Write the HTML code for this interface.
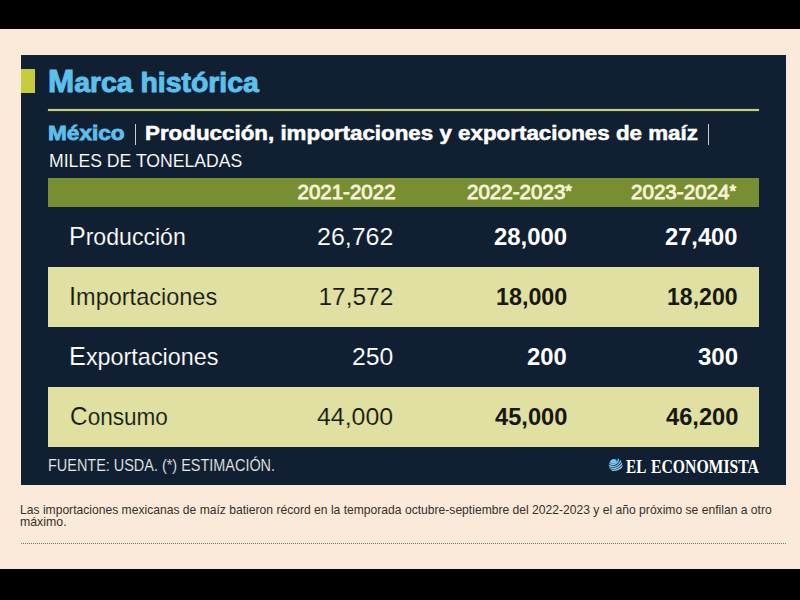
<!DOCTYPE html>
<html><head><meta charset="utf-8"><style>
html,body{margin:0;padding:0;width:800px;height:600px;overflow:hidden;background:#fbe9d9}
.b{position:absolute}
.t{position:absolute;white-space:nowrap;line-height:1;transform-origin:0 0}
.S{font-family:"Liberation Sans",sans-serif}
.R{font-family:"Liberation Serif",serif}
</style></head><body>
<div class="b" style="left:0;top:0;width:800px;height:29px;background:#000"></div>
<div class="b" style="left:0;top:569px;width:800px;height:31px;background:#000"></div>
<div class="b" style="left:21px;top:55px;width:765px;height:430px;background:#101f31"></div>
<div class="b" style="left:21px;top:69px;width:14px;height:24px;background:#c6cc3e"></div>
<div class="b" style="left:48px;top:109px;width:711px;height:2px;background:#c4d074;box-shadow:0 0 1px #c4d074"></div>
<div class="b" style="left:135px;top:124px;width:1px;height:21px;background:#c8ccd4"></div>
<div class="b" style="left:708px;top:124px;width:1px;height:21px;background:#c8ccd4"></div>
<div class="b" style="left:48px;top:178px;width:711px;height:29px;background:#788e33"></div>
<div class="b" style="left:48px;top:267px;width:711px;height:60px;background:#dfe0a2"></div>
<div class="b" style="left:48px;top:387px;width:711px;height:60px;background:#dfe0a2"></div>
<svg class="b" style="left:606px;top:455px" width="20" height="20" viewBox="0 0 20 20">
<defs><clipPath id="g"><circle cx="9.75" cy="10.15" r="6.9"/></clipPath></defs>
<g clip-path="url(#g)">
<rect width="20" height="20" fill="#0e2a46"/>
<ellipse cx="7.4" cy="6.4" rx="3.3" ry="2.4" fill="#6ccaf6"/>
<circle cx="7" cy="4.2" r="5.4" fill="none" stroke="#7cc6ec" stroke-width="1.4"/>
<circle cx="7" cy="3.4" r="8.1" fill="none" stroke="#84c0e0" stroke-width="1.4"/>
<circle cx="7" cy="2.6" r="10.8" fill="none" stroke="#8cbcd8" stroke-width="1.4"/>
<circle cx="7" cy="1.8" r="13.5" fill="none" stroke="#8cbcd8" stroke-width="1.4"/>
</g></svg>
<div class="b" style="left:21px;top:543px;width:765px;height:0;border-top:1px dotted #7a7068"></div>
<div class="t S" style="left:48.19px;top:68.64px;font-size:28px;font-weight:bold;color:#5cc0ee;transform:scaleX(1.0135);-webkit-text-stroke:1px #5cc0ee"><span style="font-size:31px;line-height:0">M</span>arca histórica</div>
<div class="t S" style="left:48.44px;top:124.12px;font-size:19.5px;font-weight:bold;color:#5cc0ee;transform:scaleX(1.1600);-webkit-text-stroke:0.8px #5cc0ee">México</div>
<div class="t S" style="left:144.85px;top:124.12px;font-size:19.5px;font-weight:bold;color:#ffffff;transform:scaleX(1.1466);-webkit-text-stroke:0.5px #ffffff">Producción, importaciones y exportaciones de maíz</div>
<div class="t S" style="left:48.56px;top:151.51px;font-size:18.8px;font-weight:normal;color:#ffffff;transform:scaleX(0.9387);-webkit-text-stroke:0.1px #101f31">MILES DE TONELADAS</div>
<div class="t S" style="left:297.50px;top:182.08px;font-size:20.5px;font-weight:normal;color:#f6f3d6;transform:scaleX(1.0000);-webkit-text-stroke:0.9px #f6f3d6">2021-2022</div>
<div class="t S" style="left:467.20px;top:182.08px;font-size:20.5px;font-weight:normal;color:#f6f3d6;transform:scaleX(1.0029);-webkit-text-stroke:0.9px #f6f3d6">2022-2023<span style="font-size:17px;line-height:0;position:relative;top:-2.5px">*</span></div>
<div class="t S" style="left:631.40px;top:182.08px;font-size:20.5px;font-weight:normal;color:#f6f3d6;transform:scaleX(1.0048);-webkit-text-stroke:0.9px #f6f3d6">2023-2024<span style="font-size:17px;line-height:0;position:relative;top:-2.5px">*</span></div>
<div class="t S" style="left:68.91px;top:225.10px;font-size:24.5px;font-weight:normal;color:#ffffff;transform:scaleX(0.9425);-webkit-text-stroke:0.15px #101f31"><span style="font-size:26.5px;line-height:0">P</span>roducción</div>
<div class="t S" style="left:68.58px;top:285.20px;font-size:24.5px;font-weight:normal;color:#18180f;transform:scaleX(0.9592);-webkit-text-stroke:0.15px #dfe0a2"><span style="font-size:26.5px;line-height:0">I</span>mportaciones</div>
<div class="t S" style="left:68.59px;top:345.30px;font-size:24.5px;font-weight:normal;color:#ffffff;transform:scaleX(0.9545);-webkit-text-stroke:0.15px #101f31"><span style="font-size:26.5px;line-height:0">E</span>xportaciones</div>
<div class="t S" style="left:69.58px;top:405.30px;font-size:24.5px;font-weight:normal;color:#18180f;transform:scaleX(0.9212);-webkit-text-stroke:0.15px #dfe0a2"><span style="font-size:26.5px;line-height:0">C</span>onsumo</div>
<div class="t S" style="left:316.98px;top:225.30px;font-size:24.5px;font-weight:normal;color:#ffffff;transform:scaleX(1.0192);-webkit-text-stroke:0.15px #101f31">26,762</div>
<div class="t S" style="left:318.40px;top:285.30px;font-size:24.5px;font-weight:normal;color:#18180f;transform:scaleX(1.0000);-webkit-text-stroke:0.15px #dfe0a2">17,572</div>
<div class="t S" style="left:351.99px;top:345.30px;font-size:24.5px;font-weight:normal;color:#ffffff;transform:scaleX(1.0103);-webkit-text-stroke:0.15px #101f31">250</div>
<div class="t S" style="left:317.28px;top:405.30px;font-size:24.5px;font-weight:normal;color:#18180f;transform:scaleX(1.0151);-webkit-text-stroke:0.15px #dfe0a2">44,000</div>
<div class="t S" style="left:494.02px;top:225.30px;font-size:24.5px;font-weight:bold;color:#ffffff;transform:scaleX(0.9753);">28,000</div>
<div class="t S" style="left:495.85px;top:285.30px;font-size:24.5px;font-weight:bold;color:#18180f;transform:scaleX(0.9507);">18,000</div>
<div class="t S" style="left:527.33px;top:345.30px;font-size:24.5px;font-weight:bold;color:#ffffff;transform:scaleX(0.9718);">200</div>
<div class="t S" style="left:494.70px;top:405.30px;font-size:24.5px;font-weight:bold;color:#18180f;transform:scaleX(0.9662);">45,000</div>
<div class="t S" style="left:665.43px;top:225.30px;font-size:24.5px;font-weight:bold;color:#ffffff;transform:scaleX(0.9671);">27,400</div>
<div class="t S" style="left:667.36px;top:285.30px;font-size:24.5px;font-weight:bold;color:#18180f;transform:scaleX(0.9411);">18,200</div>
<div class="t S" style="left:697.82px;top:345.30px;font-size:24.5px;font-weight:bold;color:#ffffff;transform:scaleX(0.9795);">300</div>
<div class="t S" style="left:665.50px;top:405.30px;font-size:24.5px;font-weight:bold;color:#18180f;transform:scaleX(0.9662);">46,200</div>
<div class="t S" style="left:47.88px;top:457.99px;font-size:16.7px;font-weight:normal;color:#ebebe6;transform:scaleX(0.8654);-webkit-text-stroke:0.15px #101f31">FUENTE: USDA. (*) ESTIMACIÓN.</div>
<div class="t R" style="left:625.50px;top:456.63px;font-size:19px;font-weight:bold;color:#ffffff;transform:scaleX(0.8000);">EL</div>
<div class="t R" style="left:650.50px;top:456.63px;font-size:19px;font-weight:bold;color:#ffffff;transform:scaleX(0.8269);">ECONOMISTA</div>
<div class="t S" style="left:20.29px;top:503.65px;font-size:12.6px;font-weight:normal;color:#35302a;transform:scaleX(0.9613);">Las importaciones mexicanas de maíz batieron récord en la temporada octubre-septiembre del 2022-2023 y el año próximo se enfilan a otro</div>
<div class="t S" style="left:20.27px;top:516.15px;font-size:12.6px;font-weight:normal;color:#35302a;transform:scaleX(0.9783);">máximo.</div>
</body></html>
